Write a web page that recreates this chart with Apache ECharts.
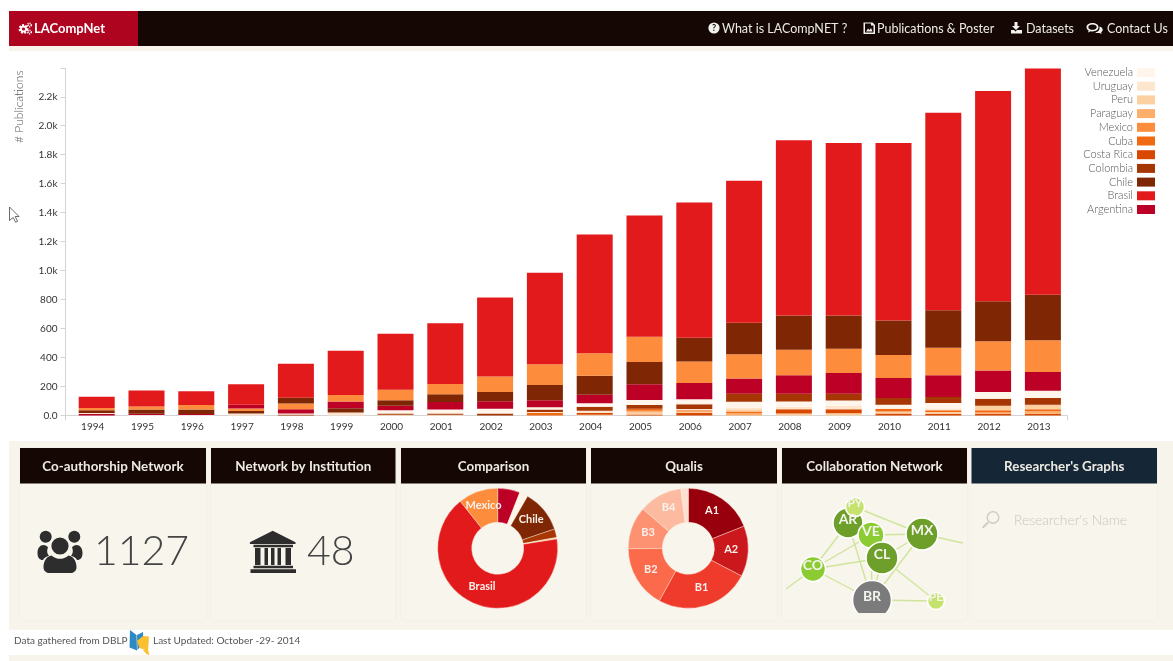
<!DOCTYPE html>
<html>
<head>
<meta charset="utf-8">
<title>LACompNet</title>
<script src="https://cdn.jsdelivr.net/npm/echarts@6/dist/echarts.min.js"></script>
<style>
  html, body { margin: 0; padding: 0; background: #fff; }
  #main { width: 1173px; height: 661px; }
</style>
</head>
<body>
<div id="main"></div>
<script>
// Publications per year, by country
const years = ['1994','1995','1996','1997','1998','1999','2000','2001','2002','2003','2004','2005','2006','2007','2008','2009','2010','2011','2012','2013'];
const legendOrder = ['Venezuela','Uruguay','Peru','Paraguay','Mexico','Cuba','Costa Rica','Colombia','Chile','Brasil','Argentina'];
const countryColors = ['#fff5eb','#fee6ce','#fdd0a2','#fdae6b','#fd8d3c','#f16913','#d94801','#a63603','#7f2704','#e31a1c','#bd0026'];

const venezuela = [0,4,3,0,7,0,23,28,32,16,23,35,35,39,37,39,28,39,48,51];
const uruguay   = [8,0,0,13,0,20,0,0,0,7,16,0,9,12,16,21,0,12,0,0];
const peru      = [0,0,0,0,0,0,5,5,0,0,5,14,9,16,14,16,14,12,30,30];
const paraguay  = [0,0,0,0,0,0,0,0,0,0,0,12,0,16,0,0,0,0,9,18];
const mexico    = [16,20,32,18,39,46,71,71,106,143,154,175,147,166,177,168,159,189,202,219];
const cuba      = [0,0,0,0,0,0,0,0,0,18,0,14,9,12,0,0,18,12,16,14];
const costaRica = [0,0,0,0,0,0,0,0,0,0,12,7,18,0,30,28,14,12,12,12];
const colombia  = [0,0,0,0,7,0,9,9,14,16,28,25,32,55,53,46,46,41,48,46];
const chile     = [18,30,30,18,39,30,39,53,64,106,131,154,164,218,237,230,239,260,276,315];
const brasil    = [78,110,94,141,235,305,388,419,546,631,821,836,934,980,1209,1189,1224,1363,1452,1561];
const argentina = [10,8,8,26,30,46,30,51,53,48,60,108,113,106,127,143,138,150,147,129];

const countryValues = {
  'Venezuela': venezuela, 'Uruguay': uruguay, 'Peru': peru, 'Paraguay': paraguay, 'Mexico': mexico,
  'Cuba': cuba, 'Costa Rica': costaRica, 'Colombia': colombia, 'Chile': chile, 'Brasil': brasil, 'Argentina': argentina
};

// The stack order changes from year to year, bottom to top
const stackOrder = [
  ['Argentina','Uruguay','Chile','Mexico','Brasil'],
  ['Venezuela','Argentina','Chile','Mexico','Brasil'],
  ['Venezuela','Argentina','Chile','Mexico','Brasil'],
  ['Uruguay','Chile','Mexico','Argentina','Brasil'],
  ['Colombia','Venezuela','Argentina','Mexico','Chile','Brasil'],
  ['Uruguay','Chile','Argentina','Mexico','Brasil'],
  ['Peru','Colombia','Venezuela','Argentina','Chile','Mexico','Brasil'],
  ['Peru','Colombia','Venezuela','Argentina','Chile','Mexico','Brasil'],
  ['Colombia','Venezuela','Argentina','Chile','Mexico','Brasil'],
  ['Cuba','Uruguay','Colombia','Venezuela','Argentina','Chile','Mexico','Brasil'],
  ['Peru','Costa Rica','Uruguay','Colombia','Venezuela','Argentina','Chile','Mexico','Brasil'],
  ['Costa Rica','Peru','Paraguay','Cuba','Colombia','Venezuela','Argentina','Chile','Mexico','Brasil'],
  ['Costa Rica','Peru','Cuba','Uruguay','Colombia','Venezuela','Argentina','Mexico','Chile','Brasil'],
  ['Paraguay','Cuba','Peru','Uruguay','Venezuela','Colombia','Argentina','Mexico','Chile','Brasil'],
  ['Peru','Costa Rica','Uruguay','Venezuela','Colombia','Argentina','Mexico','Chile','Brasil'],
  ['Peru','Costa Rica','Uruguay','Venezuela','Colombia','Argentina','Mexico','Chile','Brasil'],
  ['Costa Rica','Peru','Cuba','Venezuela','Colombia','Argentina','Mexico','Chile','Brasil'],
  ['Costa Rica','Peru','Cuba','Uruguay','Venezuela','Colombia','Argentina','Mexico','Chile','Brasil'],
  ['Costa Rica','Paraguay','Cuba','Peru','Colombia','Venezuela','Argentina','Mexico','Chile','Brasil'],
  ['Costa Rica','Paraguay','Cuba','Peru','Colombia','Venezuela','Argentina','Mexico','Chile','Brasil']
];

const yTicks = [0,200,400,600,800,1000,1200,1400,1600,1800,2000,2200];
const yMax = 2395;

// Donuts
const comparisonNames  = ['Argentina','Venezuela','Chile','Colombia','Peru','Brasil','Mexico'];
const comparisonValues = [6.0,2.3,11.5,2.3,0.4,66.8,10.7];
const comparisonLabelled = ['Chile','Brasil','Mexico'];
const qualisNames  = ['A1','A2','B1','B2','B3','B4','B5'];
const qualisValues = [18.9,13.6,25.3,16.8,11.4,11.6,2.0];
const qualisColors = ['#99000d','#cb181d','#ef3b2c','#fb6a4a','#fc9272','#fcbba1','#fee0d2'];
// Donut labels sit a little closer to the hole than the ring's mid radius
const labelNudge = { Brasil: [1,-5], Chile: [-2,0], Mexico: [1,1], A1: [-2,0], A2: [-3,-1], B1: [0,-5], B2: [2,-2], B3: [3,0], B4: [2,0] };

// Collaboration network, in the panel's own layout units
const netNames  = ['AR','PY','VE','MX','CL','CO','BR','PE','',' '];
const netLayout = [[66,39],[73,23],[89,51],[140,50],[100,74],[31,85],[90,116],[154,117],[4,105],[181,59]];
const netSizes  = [30,19,26,32,32,25,39,17,0,0];
const netColors = ['#6f9f2b','#c5e26c','#8ccb32','#6f9f2b','#6f9f2b','#8ccb32','#7b7b7b','#c5e26c','#cfe59a','#cfe59a'];
const netEdges  = [['PY','MX'],['AR','CO'],['AR','BR'],['VE','MX'],['VE','CO'],['CO','CL'],['CO','BR'],['CL','MX'],
                   ['CL','BR'],['MX','BR'],['CL','PE'],['BR','PE'],['CO',''],['MX',' '],['VE','BR'],['PY','AR']];

// Page furniture
const cards = [
  { title: 'Co-authorship Network', x: 20, w: 186, head: '#150703' },
  { title: 'Network by Institution', x: 211, w: 184.5, head: '#150703' },
  { title: 'Comparison', x: 401, w: 185, head: '#150703' },
  { title: 'Qualis', x: 591, w: 186, head: '#150703' },
  { title: 'Collaboration Network', x: 782, w: 185, head: '#150703' },
  { title: "Researcher's Graphs", x: 971.5, w: 185.5, head: '#152736' }
];
const navLinks = [
  { text: 'What is LACompNET ?', x: 722 },
  { text: 'Publications & Poster', x: 877 },
  { text: 'Datasets', x: 1026 },
  { text: 'Contact Us', x: 1107 }
];

const FONT = 'Lato, "Open Sans", sans-serif';
const g = [];
let iconCount = 0;
const box = (x, y, w, h, fill, extra) => g.push(Object.assign({ type: 'rect', shape: { x, y, width: w, height: h }, style: { fill }, silent: true }, extra || {}));
const label = (text, x, y, size, fill, weight, align, extra) => g.push(Object.assign({
  type: 'text', x, y, silent: true,
  style: { text, fill, fontFamily: FONT, fontSize: size, fontWeight: weight || 'normal', textAlign: align || 'left', textVerticalAlign: 'middle' }
}, extra || {}));
// Glyphs are SVG paths registered as their own graphic shapes
const icon = (d, fill, extra) => {
  const type = 'glyph' + (iconCount++);
  echarts.graphic.registerShape(type, echarts.graphic.extendPath(d, {}));
  g.push(Object.assign({ type, silent: true, shape: {}, style: { fill } }, extra || {}));
};
const disc = (cx, cy, r, style) => g.push({ type: 'circle', silent: true, shape: { cx, cy, r }, style });

// Bands behind the content
box(9, 11, 1164, 35, '#150703');
box(9, 11, 129, 35, '#ae0420');
box(9, 46, 1164, 5, '#f7f4ec');
box(9, 441, 1164, 189, '#f7f4ec');
box(9, 630, 1164, 25, '#ffffff');
box(9, 655, 1164, 6, '#f7f4ec');

// Brand
disc(23.5, 29, 3.2, { fill: 'none', stroke: '#fff', lineWidth: 3.4, lineDash: [1.6, 1.1] });
disc(23.5, 29, 2.6, { fill: 'none', stroke: '#fff', lineWidth: 1.6 });
disc(29.5, 25, 1.7, { fill: 'none', stroke: '#fff', lineWidth: 1.8, lineDash: [1, 0.8] });
disc(29.5, 32, 1.7, { fill: 'none', stroke: '#fff', lineWidth: 1.8, lineDash: [1, 0.8] });
label('LACompNet', 34, 28.5, 13, '#ffffff', 'bold');

// Navigation
navLinks.forEach(n => label(n.text, n.x, 28.5, 12.5, '#ecebe6'));
disc(714, 28, 5.6, { fill: '#f2f2ee' });
label('?', 714, 28.5, 9, '#150703', 'bold', 'center');
icon('M863.5 22.5h9l2.5 2.5v9h-11.5z M865 27v5.5h8.5v-7h-2.5v-2h-6z', '#f2f2ee');
icon('M866 31.5l2-3 1.5 1.5 1.5-2 1.5 3.5z', '#f2f2ee');
icon('M1014.5 22h3v4h2.5l-4 4-4-4h2.5z M1011 30h3l1.5 1.5 1.5-1.5h5v3.5h-11z', '#f2f2ee');
icon('M1092.5 23c-3.5 0-6 1.8-6 4.2 0 1.4 1 2.6 2.2 3.3l-.7 2 2.6-1.3c.6.1 1.2.2 1.9.2 3.5 0 6-1.9 6-4.2s-2.5-4.2-6-4.2zm0 1.6c2.5 0 4.2 1.2 4.2 2.6s-1.7 2.6-4.2 2.6-4.2-1.2-4.2-2.6 1.7-2.6 4.2-2.6z', '#f2f2ee');
icon('M1099.5 26.5c2 .6 3.2 1.9 3.2 3.3 0 1-.6 1.9-1.6 2.5l.6 1.6-2.2-1c-1.5.3-3.2.1-4.5-.5 2.5-.2 5-1.7 4.5-5.9z', '#f2f2ee');

// Pointer left over the axis
icon('M9.5 207l9.5 9.5h-3.8l2.4 4.8-2 1-2.4-4.8-3.7 3z', '#ffffff', { style: { fill: '#ffffff', stroke: '#444', lineWidth: 0.8 } });

// Cards
cards.forEach(c => {
  box(c.x, 448, c.w, 172, '#f8f5ed', { style: { fill: '#f8f5ed', shadowBlur: 2, shadowColor: 'rgba(0,0,0,0.05)' } });
  box(c.x, 448, c.w, 35.5, c.head);
  label(c.title, c.x + c.w / 2, 466.5, 13.4, '#eceae2', 'bold', 'center');
});

// Card 1: people glyph and author count
disc(45.7, 536.7, 6, { fill: '#2d2d2d' });
disc(74.3, 536.7, 6, { fill: '#2d2d2d' });
icon('M37.5 553c0-5 2.5-8 6-8 2 0 3.5 1 4.5 2.5 -1.5 3-1 6 1 8.5 -3 .6-5 2-6 4 -3.5 0-5.5-2.5-5.5-7z', '#2d2d2d');
icon('M82.5 553c0-5-2.5-8-6-8 -2 0-3.5 1-4.5 2.5 1.500 3 1 6-1 8.500 3 .6 5 2 6 4 3.500 0 5.500-2.500 5.500-7z', '#2d2d2d');
disc(60, 546, 8.6, { fill: '#2d2d2d' });
icon('M43.500 567c0-6 3.500-11 8-11.500 2.500 2.500 6 3.300 8.500 3.300s6-.8 8.500-3.300c4.500.5 8 5.500 8 11.500 0 4-3 6-6 6h-21c-3 0-6-2-6-6z', '#2d2d2d');
label('1127', 94, 552, 41, '#444444', 300);

// Card 2: building glyph and institution count
icon('M272.700 530.700l22.800 11.600v1.700h-45.600v-1.700z M250.500 569.300h45.500v3.700h-45.500z M253.500 565.800h39.500v2.500h-39.500z M253.500 544.800h39.500v2.500h-39.500z M255 548h5.500v17h-5.500z M264.500 548h3.500v17h-3.500z M271 548h3.500v17h-3.500z M277.500 548h3.500v17h-3.500z M285.500 548h5.500v17h-5.500z', '#2d2d2d');
label('48', 307, 552, 41, '#444444', 300);

// Card 6: search box
icon('M993 511a6.500 6.500 0 1 0 .01 0z M993 512.400a5.100 5.100 0 1 1-.01 0z', '#cfccc5');
icon('M987.500 521.500l1.400 1.400-5 5c-.8.8-2.200-.6-1.400-1.400z', '#cfccc5');
label("Researcher's Name", 1014, 520.5, 13.8, '#c9c6bf', 300);

// Footer
label('Data gathered from DBLP', 14, 641, 10, '#555555');
icon('M130 630l6.500 5 .5 15.500-7.500-3z', '#2f8ac4');
icon('M137 635l6-3 .5 11-6 7z', '#2f8ac4');
icon('M137 641l6-5 6 .5-1 14.500-8.500-3z', '#fbc02d');
icon('M143 650l5 0 1.500 5-3-1z', '#fbc02d');
label('Last Updated: October -29- 2014', 153, 641, 10, '#555555');

// Hides the lower edge of the largest network node
box(782, 613, 185, 7, '#f8f5ed', { z: 100 });

// One stacked series per stack position, coloured by the country in that slot of each year
const layerCount = Math.max(...stackOrder.map(o => o.length));
const barLayers = [];
for (let k = 0; k < layerCount; k++) {
  barLayers.push({
    type: 'bar', name: 'layer' + k, stack: 'publications', xAxisIndex: 1, yAxisIndex: 1,
    barWidth: 36, silent: true,
    data: years.map((y, i) => {
      const country = stackOrder[i][k];
      if (!country) return { value: 0, itemStyle: { color: 'transparent' } };
      return { value: countryValues[country][i], itemStyle: { color: countryColors[legendOrder.indexOf(country)] } };
    })
  });
}
// Empty series carrying the legend entries; sharing the stack keeps them from taking bar slots
const legendSeries = legendOrder.map((name, i) => ({
  type: 'bar', name, data: [], stack: 'publications', barWidth: 36, xAxisIndex: 1, yAxisIndex: 1, itemStyle: { color: countryColors[i] }
}));

const axisGrey = '#d4d4d4';
const hiddenY = { type: 'value', min: 0, max: yMax, show: false };
const tickLabel = v => v === 0 ? '0.0' : (v < 1000 ? String(v) : (v / 1000).toFixed(1) + 'k');
const donutLabel = (name, shown) => ({
  show: shown, position: 'inside', offset: labelNudge[name] || [0, 0],
  fontFamily: FONT, fontSize: 11, fontWeight: 'bold', color: '#f8f0ea', formatter: '{b}'
});

const option = {
  animation: false,
  backgroundColor: '#ffffff',
  graphic: { elements: g },
  legend: {
    data: legendOrder, orient: 'vertical', align: 'right', right: 18, top: 67,
    icon: 'rect', itemWidth: 18, itemHeight: 9, itemGap: 2.7, padding: 0, selectedMode: false,
    textStyle: { fontFamily: FONT, fontSize: 11, fontWeight: 300, color: '#555555', width: 58, align: 'right', padding: [0, -1, 0, 0] }
  },
  grid: [
    { left: 65.5, top: 68.5, width: 1001.5, height: 347 },
    { left: 71.8, top: 68.5, width: 996, height: 347 },
    { left: 67.8, top: 68.5, width: 996, height: 347 },
    { left: 782, top: 484, width: 185, height: 136 }
  ],
  xAxis: [
    // Baseline only, with a tick at each end
    { type: 'value', gridIndex: 0, min: 0, max: 1, splitLine: { show: false }, axisLabel: { show: false },
      axisLine: { show: true, lineStyle: { color: axisGrey } },
      axisTick: { show: true, length: 5, lineStyle: { color: axisGrey }, customValues: [0, 1] } },
    { type: 'category', gridIndex: 1, data: years, show: false },
    { type: 'category', gridIndex: 2, data: years,
      axisLine: { show: false },
      axisTick: { alignWithLabel: true, length: 4, lineStyle: { color: axisGrey } },
      axisLabel: { fontFamily: FONT, fontSize: 10, color: '#333333', margin: 6, interval: 0 } },
    { type: 'value', gridIndex: 3, min: 0, max: 185, show: false }
  ],
  yAxis: [
    { type: 'value', gridIndex: 0, min: 0, max: yMax, splitLine: { show: false },
      name: '# Publications', nameLocation: 'end', nameRotate: 90, nameGap: -2,
      nameTextStyle: { fontFamily: FONT, fontSize: 12, fontWeight: 300, color: '#555555', align: 'right', verticalAlign: 'bottom', padding: [0, 0, 40, 0] },
      axisLine: { show: true, lineStyle: { color: axisGrey } },
      axisTick: { show: true, length: 5, lineStyle: { color: axisGrey }, customValues: yTicks.concat([yMax]) },
      axisLabel: { fontFamily: FONT, fontSize: 10, color: '#333333', margin: 8, customValues: yTicks, formatter: tickLabel } },
    Object.assign({ gridIndex: 1 }, hiddenY),
    Object.assign({ gridIndex: 2 }, hiddenY),
    { type: 'value', gridIndex: 3, min: 0, max: 136, inverse: true, show: false }
  ],
  series: barLayers.concat(legendSeries, [
    { type: 'pie', center: [497.7, 548.3], radius: [26, 60], startAngle: 90, silent: true,
      itemStyle: { borderColor: '#fdebdc', borderWidth: 0.4 },
      labelLine: { show: false },
      data: comparisonNames.map((name, i) => ({
        name, value: comparisonValues[i],
        itemStyle: { color: countryColors[legendOrder.indexOf(name)] },
        label: donutLabel(name, comparisonLabelled.includes(name))
      })) },
    { type: 'pie', center: [688.3, 548.3], radius: [26, 60], startAngle: 90, silent: true,
      itemStyle: { borderColor: '#fdebdc', borderWidth: 0.4 },
      labelLine: { show: false },
      data: qualisNames.map((name, i) => ({
        name, value: qualisValues[i], itemStyle: { color: qualisColors[i] },
        label: donutLabel(name, name !== 'B5')
      })) },
    { type: 'graph', coordinateSystem: 'cartesian2d', xAxisIndex: 3, yAxisIndex: 3, layout: 'none', silent: true,
      z: 3,
      lineStyle: { color: '#cfe59a', width: 1.4, opacity: 1, curveness: 0 },
      data: netNames.map((name, i) => ({
        name, value: netLayout[i], symbolSize: netSizes[i],
        itemStyle: { color: netColors[i], borderColor: netSizes[i] ? '#ffffff' : 'transparent', borderWidth: netSizes[i] ? 1.6 : 0 },
        label: { show: name.trim() !== '', position: 'inside', offset: [0, -4], fontFamily: FONT, fontSize: netSizes[i] < 20 ? 12 : 14, fontWeight: 'bold', color: '#f4f4ee', formatter: '{b}' }
      })),
      links: netEdges.map(([source, target]) => ({ source, target }))
    }
  ])
};

echarts.init(document.getElementById('main')).setOption(option);
</script>
</body>
</html>
